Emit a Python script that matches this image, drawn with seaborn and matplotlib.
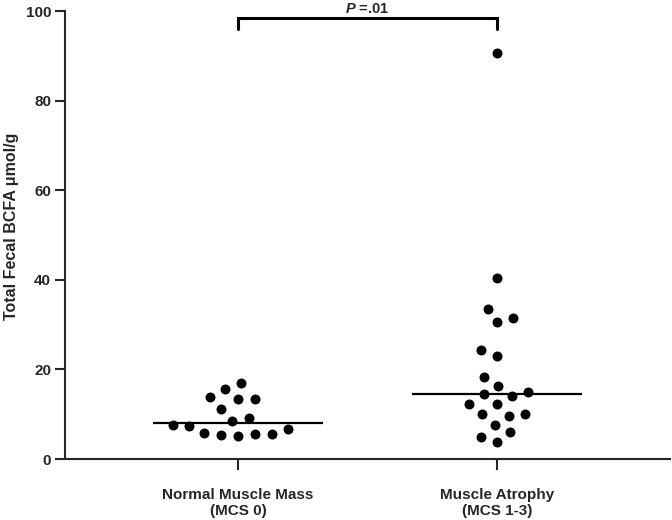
import numpy as np
import pandas as pd
import matplotlib
matplotlib.use("Agg")
import matplotlib.pyplot as plt
import seaborn as sns

# values (umol/g)
normal_mass = [16.9, 13.9, 13.3, 13.3, 15.6, 11.1, 9.1, 8.5, 7.4, 5.7,
               5.5, 5.1, 5.3, 5.5, 6.7, 7.7]
atrophy = [90.7, 40.3, 33.5, 31.4, 30.5, 24.3, 23.0, 18.2, 16.3, 15.0, 14.1,
           14.5, 12.3, 12.3, 10.1, 9.7, 10.0, 7.6, 6.0, 4.9, 3.7]
group_labels = ["Normal Muscle Mass\n(MCS 0)", "Muscle Atrophy\n(MCS 1-3)"]
p_label = r"$\it{P}$ =.01"
y_ticks = [0, 20, 40, 60, 80, 100]

df = pd.DataFrame({
    "group": [group_labels[0]] * len(normal_mass) + [group_labels[1]] * len(atrophy),
    "value": normal_mass + atrophy,
})

sns.set_style("ticks")
plt.rcParams["font.family"] = ["Liberation Sans", "DejaVu Sans"]
plt.rcParams["font.weight"] = "bold"
plt.rcParams["mathtext.fontset"] = "custom"
plt.rcParams["mathtext.it"] = "Liberation Sans:italic:bold"
plt.rcParams["mathtext.rm"] = "Liberation Sans:bold"

fig = plt.figure(figsize=(6.72, 5.2), dpi=100)
ax = fig.add_axes([0.0967, 0.1173, 0.9003, 0.8615])

# white edge keeps the swarm spacing a bit looser than the dots
sns.swarmplot(data=df, x="group", y="value", order=group_labels, ax=ax,
              color="black", size=9.4, linewidth=2.2, edgecolor="white")

# median bars
for i, vals in enumerate([normal_mass, atrophy]):
    ax.hlines(np.median(vals), i - 0.33, i + 0.33, color="black", lw=1.6, zorder=5)

# significance bracket
ax.plot([0, 0, 1, 1], [96.0, 98.4, 98.4, 96.0], color="black", lw=2.2,
        clip_on=False, solid_joinstyle="miter")
ax.text(0.5, 99.0, p_label, ha="center", va="bottom", fontsize=10.5,
        fontweight="bold", clip_on=False)

ax.set_xlim(-0.668, 1.668)
ax.set_ylim(0, 100)
ax.set_yticks(y_ticks)
ax.set_xlabel("")
ax.set_ylabel("Total Fecal BCFA \u03bcmol/g", fontsize=11.5, fontweight="bold")
ax.yaxis.set_label_coords(-0.076, 0.52)

for side in ["top", "right"]:
    ax.spines[side].set_visible(False)
for side in ["left", "bottom"]:
    ax.spines[side].set_linewidth(1.5)
ax.tick_params(axis="y", length=7, width=1.5, pad=3, labelsize=11)
ax.tick_params(axis="x", length=8, width=1.5, pad=13, labelsize=11)
for lab in ax.get_xticklabels() + ax.get_yticklabels():
    lab.set_fontweight("bold")

fig.savefig("out.png", dpi=100)
